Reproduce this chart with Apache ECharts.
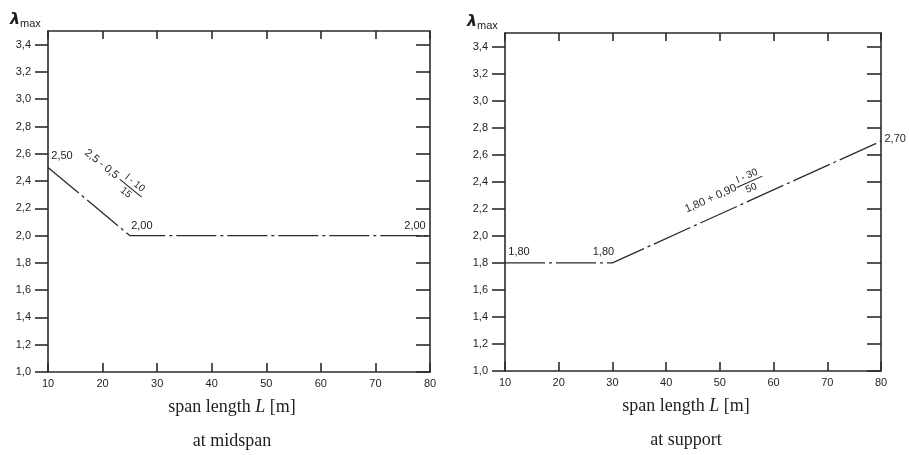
<!DOCTYPE html>
<html>
<head>
<meta charset="utf-8">
<script src="https://cdn.jsdelivr.net/npm/echarts@6/dist/echarts.min.js"></script>
<style>html,body{margin:0;padding:0;background:#fff}#c{width:909px;height:455px}</style>
</head>
<body>
<div id="c"></div>
<script>
// ---- data ----
const midX = [10, 25, 80];
const midY = [2.5, 2.0, 2.0];
const midLabels = ['2,50', '2,00', '2,00'];
const supX = [10, 30, 80];
const supY = [1.8, 1.8, 2.7];
const supLabels = ['1,80', '1,80', '2,70'];
const yTickValues = [1.0, 1.2, 1.4, 1.6, 1.8, 2.0, 2.2, 2.4, 2.6, 2.8, 3.0, 3.2, 3.4];
const xTickValues = [10, 20, 30, 40, 50, 60, 70, 80];
const axisTitle = 'span length';
const midTitle = 'at midspan';
const supTitle = 'at support';
const midFormula = ['2,5 - 0,5', 'l - 10', '15'];
const supFormula = ['1,80 + 0,90', 'l - 30', '50'];

const INK = '#2b2b2b';
const TXT = '#1e1e1e';
const sans = 'Liberation Sans';
const dash = [40, 4, 3, 4];

function fmt(v) { return v.toFixed(1).replace('.', ','); }

function axesFor(g) {
  const xs = [
    { gridIndex: g, type: 'value', min: 10, max: 80, interval: 10, position: 'bottom',
      axisLine: { show: true, onZero: false, lineStyle: { color: INK, width: 1.6 } },
      axisTick: { show: true, inside: true, length: 9, lineStyle: { color: INK, width: 1.6 } },
      axisLabel: { show: true, margin: 6, fontFamily: sans, fontSize: 11, color: TXT },
      splitLine: { show: false } },
    { gridIndex: g, type: 'value', min: 10, max: 80, interval: 10, position: 'top',
      axisLine: { show: true, onZero: false, lineStyle: { color: INK, width: 1.6 } },
      axisTick: { show: true, inside: true, length: 8, lineStyle: { color: INK, width: 1.6 } },
      axisLabel: { show: false }, splitLine: { show: false } }
  ];
  const ys = [
    { gridIndex: g, type: 'value', min: 1.0, max: 3.5, position: 'left',
      axisLine: { show: true, onZero: false, lineStyle: { color: INK, width: 1.6 } },
      axisTick: { show: true, inside: false, length: 13, customValues: yTickValues, lineStyle: { color: INK, width: 1.6 } },
      axisLabel: { show: true, margin: 17, customValues: yTickValues, formatter: fmt, fontFamily: sans, fontSize: 11, color: TXT },
      splitLine: { show: false } },
    { gridIndex: g, type: 'value', min: 1.0, max: 3.5, position: 'right',
      axisLine: { show: true, onZero: false, lineStyle: { color: INK, width: 1.6 } },
      axisTick: { show: true, inside: true, length: 14, customValues: yTickValues, lineStyle: { color: INK, width: 1.6 } },
      axisLabel: { show: false }, splitLine: { show: false } }
  ];
  return { xs, ys };
}

const a0 = axesFor(0), a1 = axesFor(1);

function seriesData(xs, ys, labels, cfgs) {
  return xs.map((x, i) => ({
    value: [x, ys[i]],
    label: Object.assign({ show: true, formatter: labels[i], color: TXT, fontFamily: sans, fontSize: 11 }, cfgs[i])
  }));
}

const chart = echarts.init(document.getElementById('c'), null, { renderer: 'canvas' });
chart.setOption({
  animation: false,
  backgroundColor: '#fff',
  grid: [
    { left: 48, right: 479, top: 31, bottom: 83 },
    { left: 505, right: 28, top: 33, bottom: 84 }
  ],
  xAxis: [a0.xs[0], a0.xs[1], a1.xs[0], a1.xs[1]],
  yAxis: [a0.ys[0], a0.ys[1], a1.ys[0], a1.ys[1]],
  series: [
    { type: 'line', xAxisIndex: 0, yAxisIndex: 0, symbol: 'circle', symbolSize: 1,
      itemStyle: { color: 'rgba(0,0,0,0)' }, clip: false,
      lineStyle: { color: INK, width: 1.3, type: dash },
      data: seriesData(midX, midY, midLabels, [
        { position: 'top', offset: [14, 0] },
        { position: 'top', offset: [12, 1] },
        { position: 'top', offset: [-15, 1] }
      ]) },
    { type: 'line', xAxisIndex: 2, yAxisIndex: 2, symbol: 'circle', symbolSize: 1,
      itemStyle: { color: 'rgba(0,0,0,0)' }, clip: false,
      lineStyle: { color: INK, width: 1.3, type: dash },
      data: seriesData(supX, supY, supLabels, [
        { position: 'top', offset: [14, 0] },
        { position: 'top', offset: [-9, 0] },
        { position: 'right', distance: 3, offset: [0, -2] }
      ]) }
  ]
});

// ---- annotations anchored to the axes / data ----
function px(g, x, y) { return chart.convertToPixel({ gridIndex: g }, [x, y]); }

function lambda(g) {
  const p = px(g, 10, 3.5);
  return {
    type: 'group', x: p[0] - 38, y: p[1] - 11,
    children: [
      { type: 'text', x: 0, y: 0, style: { text: 'λ', font: 'italic bold 16px "DejaVu Sans"', fill: TXT, align: 'left', verticalAlign: 'middle' } },
      { type: 'text', x: 10, y: 4, style: { text: 'max', font: '11px ' + sans, fill: TXT, align: 'left', verticalAlign: 'middle' } }
    ]
  };
}

function formula(g, anchor, dx, dy, deg, parts, mainW) {
  const p = px(g, anchor[0], anchor[1]);
  const fc = mainW + 14;
  return {
    type: 'group', x: p[0] + dx, y: p[1] + dy, rotation: deg * Math.PI / 180,
    children: [
      { type: 'text', x: 0, y: 0, style: { text: parts[0], font: '11px ' + sans, fill: TXT, align: 'left', verticalAlign: 'middle' } },
      { type: 'text', x: fc, y: -6, style: { text: parts[1], font: '10px ' + sans, fill: TXT, align: 'center', verticalAlign: 'middle' } },
      { type: 'line', shape: { x1: fc - 14, y1: 0.5, x2: fc + 14, y2: 0.5 }, style: { stroke: TXT, lineWidth: 1 } },
      { type: 'text', x: fc - 1, y: 7, style: { text: parts[2], font: '10px ' + sans, fill: TXT, align: 'center', verticalAlign: 'middle' } }
    ]
  };
}

function bottomTitle(g, t) {
  const a = px(g, 10, 1.0), b = px(g, 80, 1.0);
  const cx = (a[0] + b[0]) / 2 - 7;
  return [
    { type: 'text', x: cx, y: a[1] + 35, style: {
      text: '{r|' + axisTitle + ' }{i|L}{r| [m]}',
      rich: { r: { font: '18px "Liberation Serif"', fill: TXT }, i: { font: 'italic 18px "Liberation Serif"', fill: TXT } },
      align: 'center', verticalAlign: 'middle' } },
    { type: 'text', x: cx, y: a[1] + 69, style: { text: t, font: '18px "Liberation Serif"', fill: TXT, align: 'center', verticalAlign: 'middle' } }
  ];
}

chart.setOption({
  graphic: [
    lambda(0), lambda(1),
    formula(0, [10, 2.5], 38, -16, -39, midFormula, 44),
    formula(1, [30, 1.8], 73, -53, 24, supFormula, 56)
  ].concat(bottomTitle(0, midTitle), bottomTitle(1, supTitle))
});
</script>
</body>
</html>
